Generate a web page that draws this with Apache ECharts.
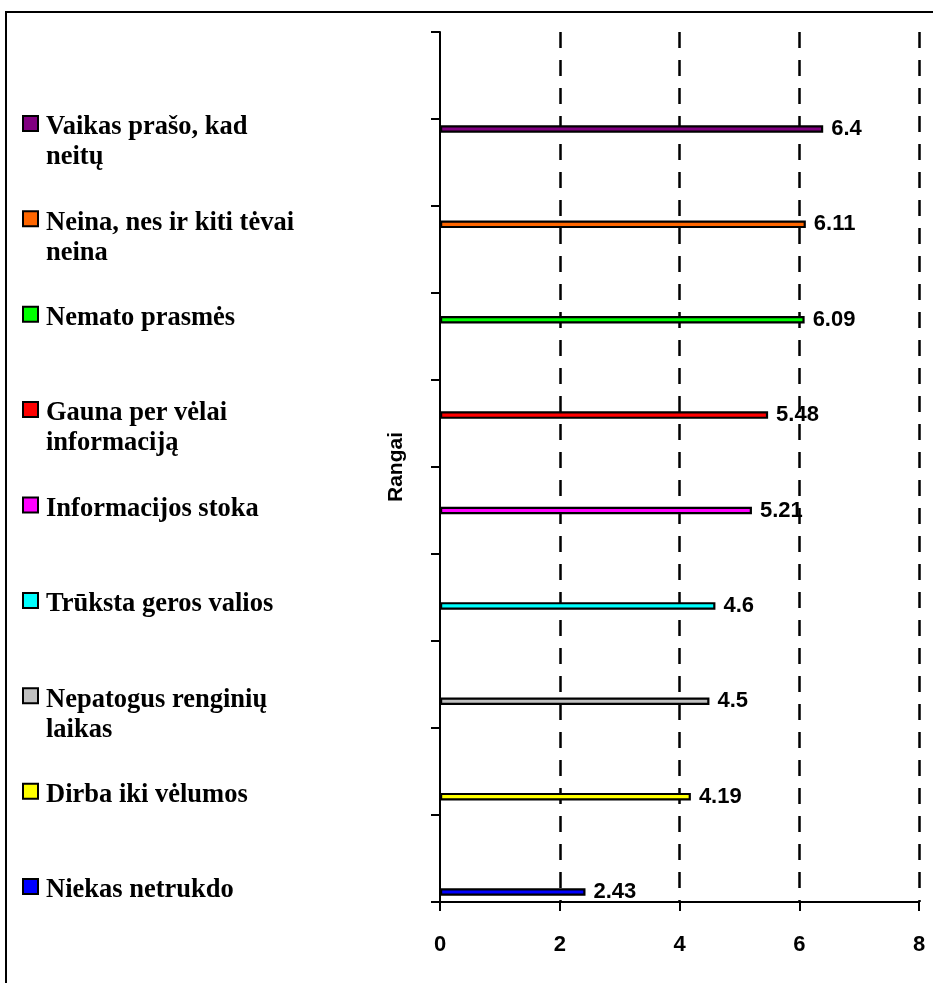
<!DOCTYPE html>
<html>
<head>
<meta charset="utf-8">
<script src="https://cdn.jsdelivr.net/npm/echarts@6/dist/echarts.min.js"></script>
<style>
html,body{margin:0;padding:0;background:#fff;}
#chart{width:933px;height:983px;}
</style>
</head>
<body>
<div id="chart"></div>
<script>
// Categories listed bottom-to-top (as on the axis)
const categories = [
  'Niekas netrukdo',
  'Dirba iki vėlumos',
  'Nepatogus renginių\nlaikas',
  'Trūksta geros valios',
  'Informacijos stoka',
  'Gauna per vėlai\ninformaciją',
  'Nemato prasmės',
  'Neina, nes ir kiti tėvai\nneina',
  'Vaikas prašo, kad\nneitų'
];
const values = [2.43, 4.19, 4.5, 4.6, 5.21, 5.48, 6.09, 6.11, 6.4];
const colors = ['#0000FF', '#FFFF00', '#C0C0C0', '#00FFFF', '#FF00FF', '#FF0000', '#00FF00', '#FF6600', '#800080'];
const xMin = 0, xMax = 8, xInterval = 2;
const axisTitle = 'Rangai';

const chart = echarts.init(document.getElementById('chart'), null, {renderer: 'canvas'});

const g2Top = 81.3, g2Height = 858.4;
const band = g2Height / categories.length;

const series = categories.map((name, i) => ({
  type: 'bar',
  name: name,
  xAxisIndex: 1,
  yAxisIndex: 1,
  barWidth: 7.5,
  barGap: '-100%',
  data: categories.map((c, j) => (j === i ? values[i] : '-')),
  itemStyle: {color: colors[i], borderColor: '#000', borderWidth: 2.2},
  label: {
    show: true,
    position: 'right',
    distance: 8,
    formatter: p => String(p.value),
    fontFamily: 'Liberation Sans',
    fontWeight: 'bold',
    fontSize: 22,
    color: '#000'
  },
  silent: true,
  animation: false
}));

const lh = 30;
const shift = 4; // text first line sits slightly below the icon centre
const legends = categories.map((name, j) => {
  const barCenter = g2Top + (categories.length - 1 - j + 0.5) * band;
  const c = barCenter - 5.5;
  const n = name.split('\n').length;
  // leading spacer line of height X so that first text line centre = c + shift
  const X = (n - 1) * lh + 2 * shift;
  const boxH = X + n * lh;
  return {
    data: [{name: name, icon: 'rect'}],
    formatter: nm => '{gap| }\n' + nm,
    left: 22,
    top: c - boxH / 2,
    orient: 'vertical',
    padding: 0,
    itemWidth: 15,
    itemHeight: 15,
    selectedMode: false,
    itemStyle: {borderColor: '#000', borderWidth: 2},
    textStyle: {
      fontFamily: 'Liberation Serif',
      fontWeight: 'bold',
      fontSize: 26.5,
      lineHeight: lh,
      color: '#000',
      padding: [0, 0, 0, 3],
      rich: {
        gap: {fontSize: 1, lineHeight: X, height: X}
      }
    }
  };
});

const option = {
  backgroundColor: '#fff',
  animation: false,
  legend: legends,
  graphic: [{
    type: 'rect',
    shape: {x: 6, y: 12, width: 1000, height: 1000},
    style: {fill: 'none', stroke: '#000', lineWidth: 2},
    silent: true
  }],
  grid: [
    {left: 440, right: 14, top: 32, bottom: 81, containLabel: false},
    {left: 440, right: 14, top: g2Top, height: g2Height, containLabel: false}
  ],
  xAxis: [
    {
      type: 'value', gridIndex: 0, min: xMin, max: xMax, interval: xInterval,
      axisLine: {show: true, lineStyle: {color: '#000', width: 2}},
      axisTick: {show: true, length: 9, lineStyle: {color: '#000', width: 2}},
      axisLabel: {margin: 32, fontFamily: 'Liberation Sans', fontWeight: 'bold', fontSize: 22, color: '#000'},
      splitLine: {show: true, showMinLine: false, showMaxLine: true, lineStyle: {color: '#000', width: 2.5, type: [16, 12]}}
    },
    {
      type: 'value', gridIndex: 1, min: xMin, max: xMax, interval: xInterval, show: false
    }
  ],
  yAxis: [
    {
      type: 'value', gridIndex: 0, min: 0, max: 10, interval: 1,
      name: axisTitle, nameLocation: 'middle', nameGap: 33,
      nameTextStyle: {fontFamily: 'Liberation Sans', fontWeight: 'bold', fontSize: 21, color: '#000'},
      axisLine: {show: true, lineStyle: {color: '#000', width: 2}},
      axisTick: {show: true, length: 9, lineStyle: {color: '#000', width: 2}},
      axisLabel: {show: false},
      splitLine: {show: false}
    },
    {
      type: 'category', gridIndex: 1, data: categories, show: false
    }
  ],
  series: series
};

chart.setOption(option);
</script>
</body>
</html>
